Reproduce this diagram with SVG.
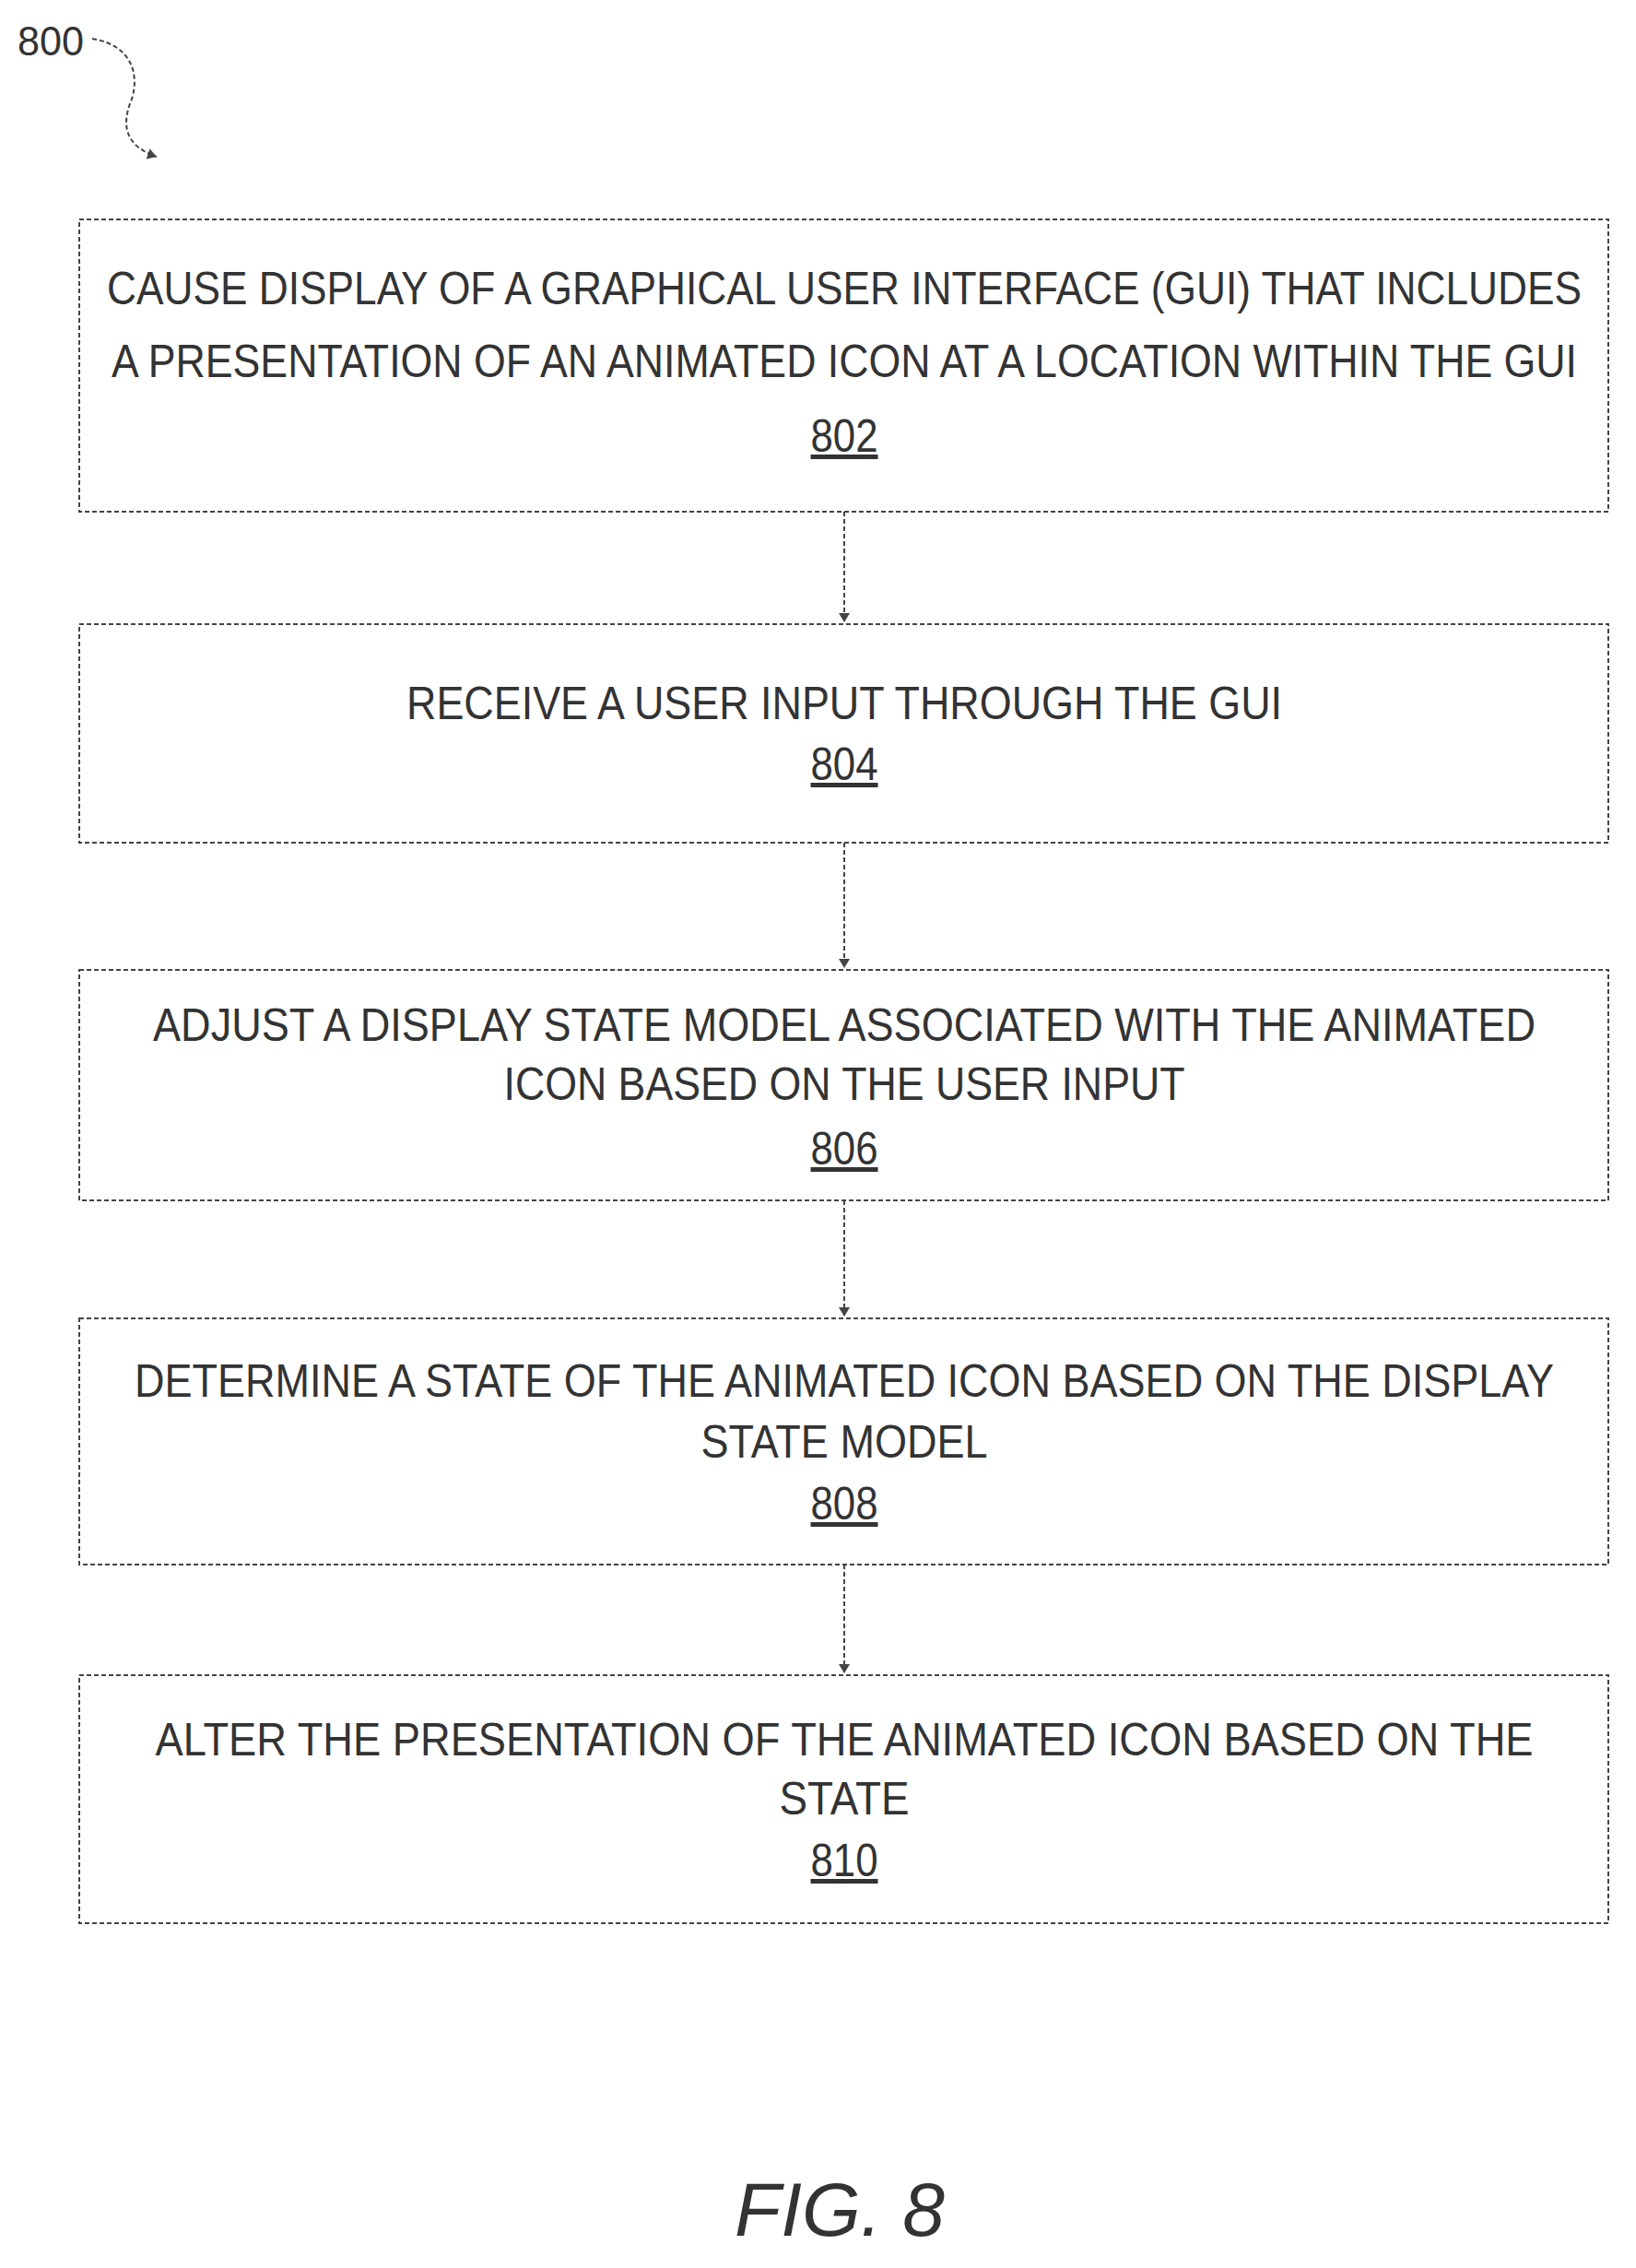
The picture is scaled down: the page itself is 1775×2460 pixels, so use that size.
<svg xmlns="http://www.w3.org/2000/svg" width="1775" height="2460" viewBox="0 0 1775 2460">
<style>
.b{fill:none;stroke:#444;stroke-width:2;stroke-dasharray:5 3}
.t{font-family:"Liberation Sans",Arial,sans-serif;font-size:50px;fill:#333;text-anchor:middle}
.n{font-family:"Liberation Sans",Arial,sans-serif;font-size:50px;fill:#333;text-anchor:middle;text-decoration:underline}
.c{fill:none;stroke:#444;stroke-width:2;stroke-dasharray:5 3}
</style>
<defs><marker id="a" markerWidth="12" markerHeight="12" refX="10" refY="6" orient="auto" markerUnits="userSpaceOnUse"><path d="M0,0 L10,6 L0,12 Z" fill="#444"/></marker></defs>
<text x="55" y="60" font-family="Liberation Sans,Arial,sans-serif" font-size="44" fill="#333" text-anchor="middle" textLength="72" lengthAdjust="spacingAndGlyphs">800</text>
<path class="c" d="M100,42 C150,50 150,90 142,110 C130,140 140,160 170,170" marker-end="url(#a)"/>
<g id="n802"><rect class="b" x="86" y="238" width="1659" height="317"/>
<text class="t" x="916" y="330" textLength="1600" lengthAdjust="spacingAndGlyphs">CAUSE DISPLAY OF A GRAPHICAL USER INTERFACE (GUI) THAT INCLUDES</text>
<text class="t" x="916" y="409" textLength="1590" lengthAdjust="spacingAndGlyphs">A PRESENTATION OF AN ANIMATED ICON AT A LOCATION WITHIN THE GUI</text>
<text class="n" x="916" y="490" textLength="73" lengthAdjust="spacingAndGlyphs">802</text></g>
<g id="n804"><rect class="b" x="86" y="677" width="1659" height="237"/>
<text class="t" x="916" y="780" textLength="950" lengthAdjust="spacingAndGlyphs">RECEIVE A USER INPUT THROUGH THE GUI</text>
<text class="n" x="916" y="846" textLength="73" lengthAdjust="spacingAndGlyphs">804</text></g>
<g id="n806"><rect class="b" x="86" y="1052" width="1659" height="250"/>
<text class="t" x="916" y="1129" textLength="1500" lengthAdjust="spacingAndGlyphs">ADJUST A DISPLAY STATE MODEL ASSOCIATED WITH THE ANIMATED</text>
<text class="t" x="916" y="1193" textLength="739" lengthAdjust="spacingAndGlyphs">ICON BASED ON THE USER INPUT</text>
<text class="n" x="916" y="1263" textLength="73" lengthAdjust="spacingAndGlyphs">806</text></g>
<g id="n808"><rect class="b" x="86" y="1430" width="1659" height="267"/>
<text class="t" x="916" y="1515" textLength="1540" lengthAdjust="spacingAndGlyphs">DETERMINE A STATE OF THE ANIMATED ICON BASED ON THE DISPLAY</text>
<text class="t" x="916" y="1581" textLength="311" lengthAdjust="spacingAndGlyphs">STATE MODEL</text>
<text class="n" x="916" y="1648" textLength="73" lengthAdjust="spacingAndGlyphs">808</text></g>
<g id="n810"><rect class="b" x="86" y="1817" width="1659" height="269"/>
<text class="t" x="916" y="1904" textLength="1495" lengthAdjust="spacingAndGlyphs">ALTER THE PRESENTATION OF THE ANIMATED ICON BASED ON THE</text>
<text class="t" x="916" y="1968" textLength="141" lengthAdjust="spacingAndGlyphs">STATE</text>
<text class="n" x="916" y="2035" textLength="73" lengthAdjust="spacingAndGlyphs">810</text></g>
<g id="connectors">
<line class="c" x1="916" y1="555" x2="916" y2="675" marker-end="url(#a)"/>
<line class="c" x1="916" y1="914" x2="916" y2="1050" marker-end="url(#a)"/>
<line class="c" x1="916" y1="1302" x2="916" y2="1428" marker-end="url(#a)"/>
<line class="c" x1="916" y1="1697" x2="916" y2="1815" marker-end="url(#a)"/>
</g>
<text x="911" y="2425" font-family="Liberation Sans,Arial,sans-serif" font-size="82" font-style="italic" fill="#333" text-anchor="middle">FIG. 8</text>
</svg>
